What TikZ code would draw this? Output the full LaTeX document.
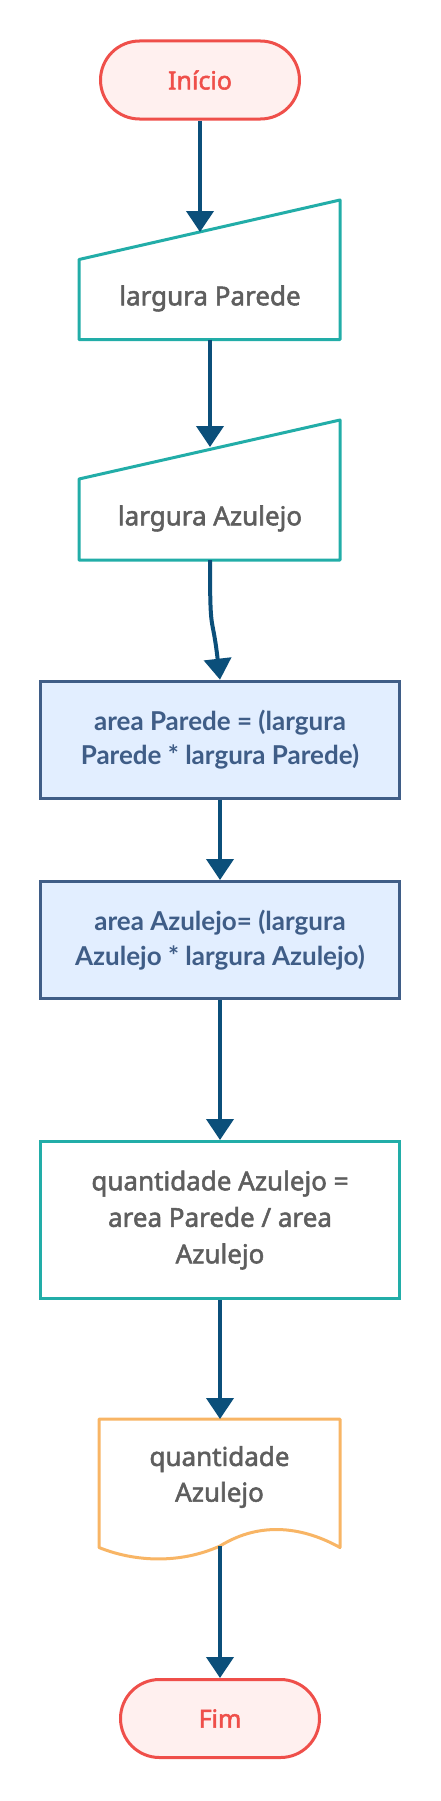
\documentclass[tikz,border=0pt]{standalone}
\usepackage{fontspec}
\setmainfont{Noto Sans}[AutoFakeBold=2]
\newfontfamily\latofont{Lato}
\usetikzlibrary{arrows.meta}
\definecolor{termred}{HTML}{EF4F4A}
\definecolor{termfill}{HTML}{FFF0EF}
\definecolor{teal1}{HTML}{22ADA8}
\definecolor{graytxt}{HTML}{5E5E5E}
\definecolor{procfill}{HTML}{E2EEFF}
\definecolor{procblue}{HTML}{3F5D87}
\definecolor{docorange}{HTML}{F8B565}
\definecolor{arrowblue}{HTML}{0B4F7A}
\tikzset{
  terminal/.style={draw=termred, fill=termfill, line width=3pt, rounded corners=39pt,
    minimum width=199pt, minimum height=78pt, text=termred, font=\bfseries\fontsize{25}{28}\selectfont, inner sep=0pt},
  graylabel/.style={text=graytxt, font=\bfseries\fontsize{26}{35.7}\selectfont, align=center, inner sep=0pt},
  procbox/.style={draw=procblue, fill=procfill, line width=3pt, minimum width=359pt, minimum height=117pt,
    text=procblue, font=\latofont\bfseries\fontsize{26}{34.4}\selectfont, align=center, inner sep=0pt},
  calcbox/.style={draw=teal1, fill=white, line width=3pt, minimum width=359pt, minimum height=157pt,
    text=graytxt, font=\bfseries\fontsize{26}{36.5}\selectfont, align=center, inner sep=0pt},
  inshape/.style={draw=teal1, fill=white, line width=3pt, line join=round},
  docshape/.style={draw=docorange, fill=white, line width=3pt, line join=round},
  flow/.style={draw=arrowblue, line width=4pt, -{Triangle[width=27pt,length=21pt]}},
}
\begin{document}
\begin{tikzpicture}[x=1pt,y=-1pt]
\useasboundingbox (0,0) rectangle (441,1801);

% Start
\node[terminal] (inicio) at (200,80) {Início};

% Manual input 1
\draw[inshape] (79,259.5) -- (340,200) -- (340,339.5) -- (79,339.5) -- cycle;
\node[graylabel] (in1) at (210,298.5) {largura Parede};
\coordinate (in1top) at (200,232);
\coordinate (in1bot) at (210,339.5);

% Manual input 2
\draw[inshape] (79,479) -- (340,420) -- (340,560) -- (79,560) -- cycle;
\node[graylabel] (in2) at (210,518.5) {largura Azulejo};
\coordinate (in2top) at (210,447);
\coordinate (in2bot) at (210,560);

% Process boxes
\node[procbox] (p1) at (220,739.7) {area Parede = (largura\\Parede * largura Parede)};
\node[procbox] (p2) at (220,940) {area Azulejo= (largura\\Azulejo * largura Azulejo)};
\node[calcbox] (p3) at (220,1220) {quantidade Azulejo =\\area Parede / area\\Azulejo};

% Document
\draw[docshape] (99,1419) -- (340,1419) -- (340,1547.5)
  .. controls (305,1528) and (262,1520) .. (220,1546)
  .. controls (180,1564) and (135,1562) .. (99,1547.5) -- cycle;
\node[graylabel] (out) at (219.5,1477) {quantidade\\Azulejo};
\coordinate (outbot) at (220,1546);

% End
\node[terminal] (fim) at (220,1718.5) {Fim};

% Connectors
\draw[flow] (inicio.south) -- (in1top);
\draw[flow] (in1bot) -- (in2top);
\draw[flow] (in2bot) .. controls (210,640) and (212,610) .. (p1.north);
\draw[flow] (p1.south) -- (p2.north);
\draw[flow] (p2.south) -- (p3.north);
\draw[flow] (p3.south) -- (220,1419);
\draw[flow] (outbot) -- (fim.north);
\end{tikzpicture}
\end{document}
